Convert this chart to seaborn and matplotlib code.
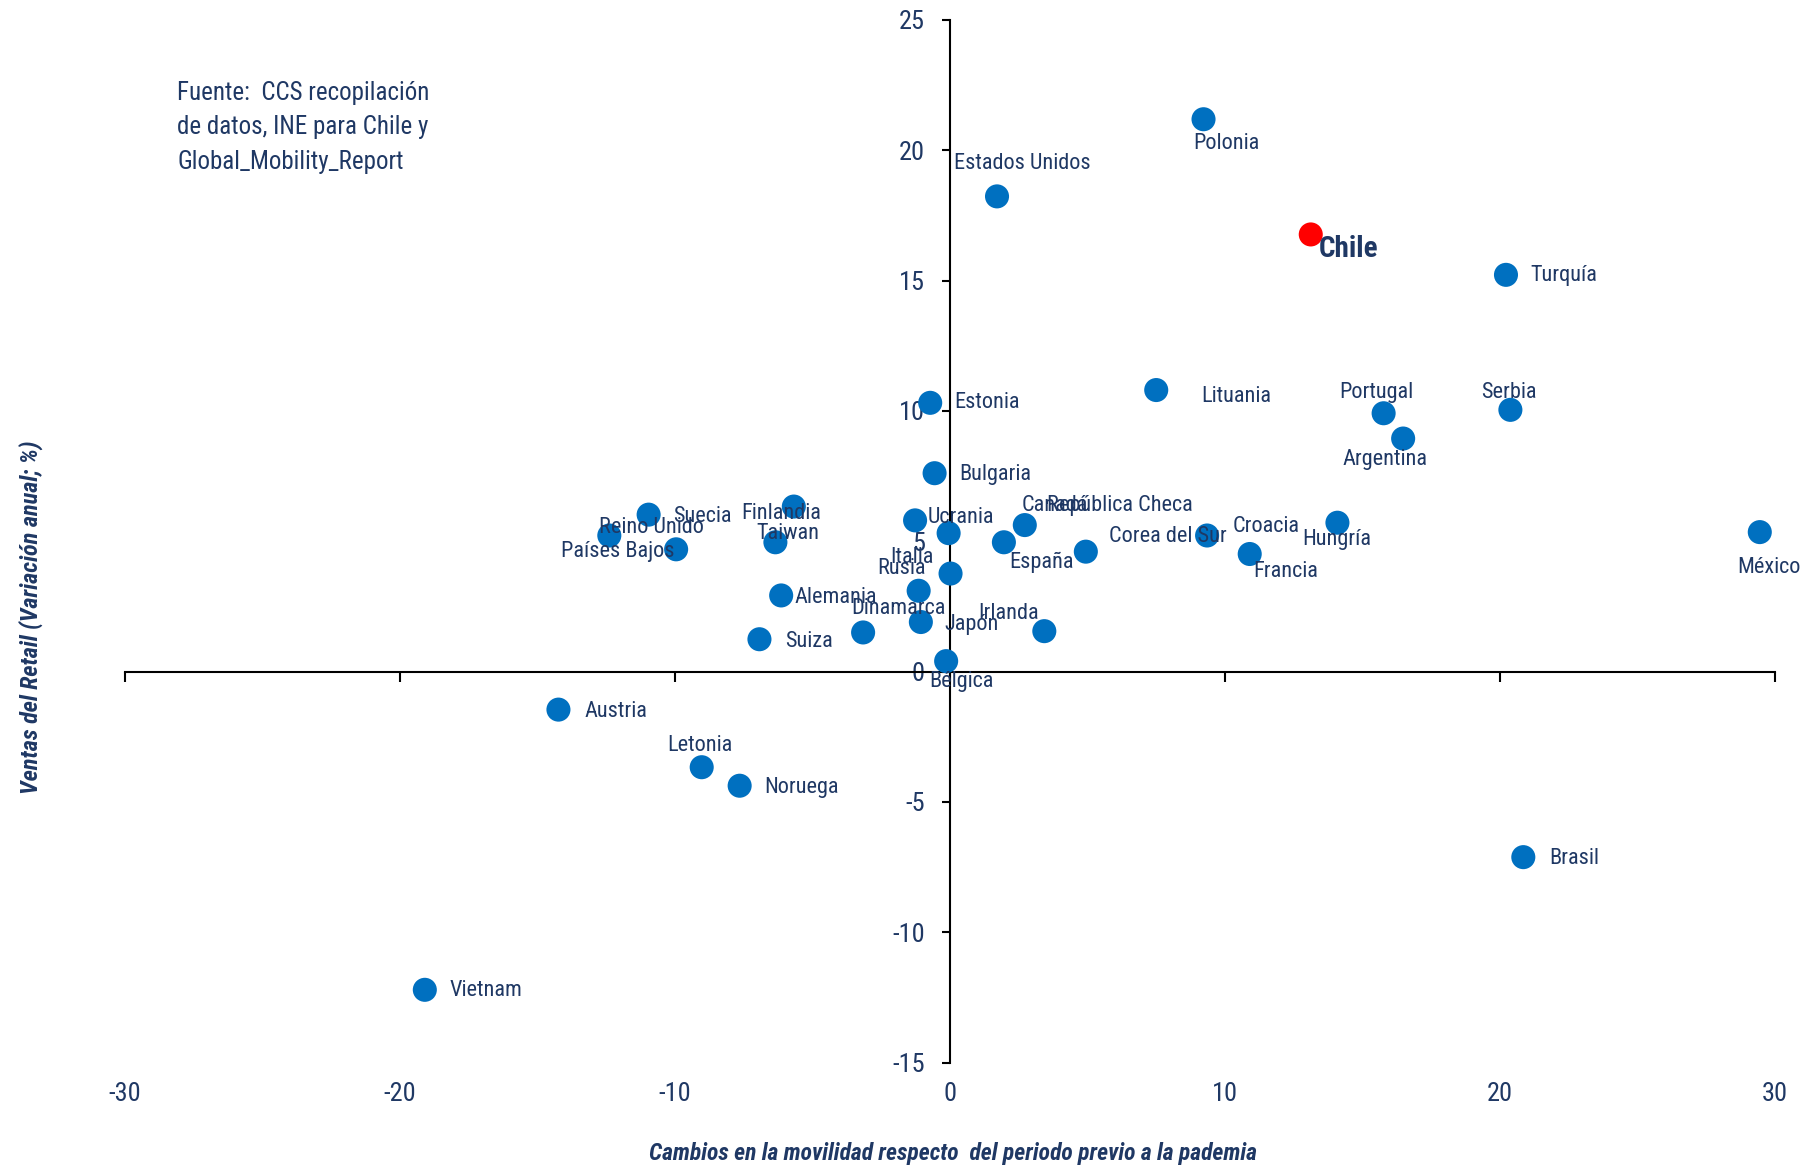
# movilidad_vs_retail.py
# Dispersion: cambios en movilidad vs ventas del retail por pais

import matplotlib.pyplot as plt
import seaborn as sns
import pandas as pd

# --- DATOS ---
paises = [
    "Polonia", "Estados Unidos", "Chile", "Turquía", "Lituania", "Estonia",
    "Portugal", "Serbia", "Argentina", "Bulgaria", "Finlandia", "Suecia",
    "Reino Unido", "Países Bajos", "Taiwan", "Ucrania", "España", "Canadá",
    "República Checa", "Corea del Sur", "Croacia", "Francia", "Hungría",
    "México", "Italia", "Rusia", "Alemania", "Dinamarca", "Japón", "Irlanda",
    "Suiza", "Bélgica", "Austria", "Letonia", "Noruega", "Brasil", "Vietnam",
]
movilidad = [
    9.23, 1.72, 13.13, 20.23, 7.51, -0.71,
    15.78, 20.39, 16.49, -0.55, -5.67, -10.95,
    -12.38, -9.95, -6.34, -1.26, -0.04, 1.97,
    2.73, 4.95, 9.36, 10.91, 14.10,
    29.46, 0.03, -1.13, -6.13, -3.15, -1.05, 3.44,
    -6.92, -0.13, -14.23, -9.02, -7.64, 20.86, -19.09,
]
ventas = [
    21.19, 18.23, 16.77, 15.22, 10.80, 10.31,
    9.91, 10.04, 8.94, 7.61, 6.33, 6.02,
    5.22, 4.69, 4.96, 5.80, 5.31, 4.96,
    5.62, 4.60, 5.22, 4.51, 5.71,
    5.35, 3.76, 3.10, 2.92, 1.50, 1.90, 1.55,
    1.24, 0.40, -1.46, -3.67, -4.38, -7.12, -12.21,
]
x_ticks = [-30, -20, -10, 0, 10, 20, 30]
y_ticks = [-15, -10, -5, 0, 5, 10, 15, 20, 25]

# desplazamiento de cada etiqueta respecto a su punto (pixeles, y hacia arriba)
label_offsets = {
    "Polonia": (23, -24), "Estados Unidos": (25, 33), "Chile": (38, -15),
    "Turquía": (58, -1), "Lituania": (80, -6), "Estonia": (57, 0),
    "Portugal": (-7, 21), "Serbia": (-2, 17), "Argentina": (-18, -21),
    "Bulgaria": (61, -1), "Finlandia": (-13, -7), "Suecia": (54, -2),
    "Reino Unido": (42, 8), "Países Bajos": (-58, -2), "Taiwan": (12, 9),
    "Ucrania": (46, 3), "España": (93, -29), "Canadá": (51, 37),
    "República Checa": (95, 20), "Corea del Sur": (82, 15), "Croacia": (59, 9),
    "Francia": (36, -17), "Hungría": (-1, -17), "México": (9, -35),
    "Italia": (-39, 16), "Rusia": (-17, 22), "Alemania": (55, -2),
    "Dinamarca": (35, 24), "Japón": (51, -2), "Irlanda": (-36, 18),
    "Suiza": (50, -2), "Bélgica": (15, -20), "Austria": (57, -2),
    "Letonia": (-2, 22), "Noruega": (62, -2), "Brasil": (51, -1),
    "Vietnam": (61, -1),
}

NAVY = "#1F3864"
BLUE = "#0070C0"
RED = "#FF0000"

sns.set_theme(style="white")
plt.rcParams['font.family'] = ['Liberation Sans Narrow', 'DejaVu Sans Condensed',
                               'Roboto Condensed', 'Liberation Sans']
plt.rcParams['axes.unicode_minus'] = False

df = pd.DataFrame({"pais": paises, "movilidad": movilidad, "ventas": ventas})
df["grupo"] = ["Chile" if p == "Chile" else "Resto" for p in df["pais"]]

fig = plt.figure(figsize=(18.09, 11.72), dpi=100)
ax = fig.add_axes([0.069, 0.0934, 0.912, 0.8896])

sns.scatterplot(data=df, x="movilidad", y="ventas", hue="grupo",
                palette={"Resto": BLUE, "Chile": RED}, s=300, linewidth=0,
                legend=False, ax=ax, zorder=3)

ax.set_xlim(-30, 30)
ax.set_ylim(-15, 25)
for side in ["top", "right"]:
    ax.spines[side].set_visible(False)
ax.spines["left"].set_position(("data", 0))
ax.spines["bottom"].set_position(("data", 0))
for side in ["left", "bottom"]:
    ax.spines[side].set_color("black")
    ax.spines[side].set_linewidth(1.5)

ax.set_xticks(x_ticks)
ax.set_yticks(y_ticks)
ax.tick_params(axis="x", bottom=True, direction="out", length=7, width=1.5,
               color="black", labelbottom=False)
ax.tick_params(axis="y", left=True, direction="out", length=6, width=1.5,
               color="black", labelsize=19, labelcolor=NAVY, pad=12)
ax.set_xlabel("")
ax.set_ylabel("")

# etiquetas del eje x en la parte inferior del grafico
sec = ax.secondary_xaxis("bottom")
sec.set_xticks(x_ticks)
sec.tick_params(length=0, labelsize=19, labelcolor=NAVY, pad=14)
sec.spines["bottom"].set_visible(False)

for _, row in df.iterrows():
    dx, dy = label_offsets[row["pais"]]
    if row["pais"] == "Chile":
        ax.annotate(row["pais"], (row["movilidad"], row["ventas"]), xytext=(dx, dy),
                    textcoords="offset pixels", ha="center", va="center",
                    fontsize=21, fontweight="bold", color=NAVY, zorder=4)
    else:
        ax.annotate(row["pais"], (row["movilidad"], row["ventas"]), xytext=(dx, dy),
                    textcoords="offset pixels", ha="center", va="center",
                    fontsize=16, color=NAVY, zorder=4)

fig.text(0.098, 0.931, "Fuente:  CCS recopilación\nde datos, INE para Chile y\nGlobal_Mobility_Report",
         ha="left", va="top", fontsize=18, color=NAVY, linespacing=1.55)
fig.text(0.017, 0.473, "Ventas del Retail (Variación anual; %)", rotation=90,
         ha="center", va="center", fontsize=17.5, style="italic", fontweight="bold", color=NAVY)
fig.text(0.527, 0.016, "Cambios en la movilidad respecto  del periodo previo a la pademia",
         ha="center", va="center", fontsize=17, style="italic", fontweight="bold", color=NAVY)

fig.savefig("out.png", dpi=100)
